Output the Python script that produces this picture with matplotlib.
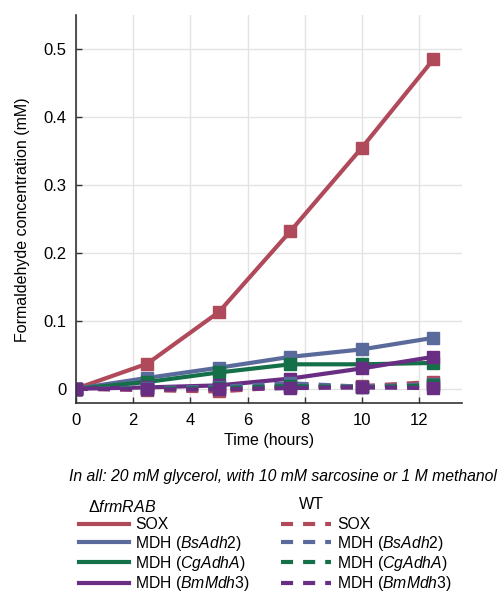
import matplotlib
matplotlib.use("Agg")
import matplotlib.pyplot as plt
from matplotlib.lines import Line2D

plt.rcParams['font.family'] = ['Liberation Sans', 'DejaVu Sans']
plt.rcParams['mathtext.fontset'] = 'custom'
plt.rcParams['mathtext.rm'] = 'Liberation Sans'
plt.rcParams['mathtext.it'] = 'Liberation Sans:italic'

# sampling times (hours)
time_h = [0, 2.5, 5, 7.5, 10, 12.5]

# delta frmRAB strains (solid)
sox_ko = [0.0, 0.037, 0.113, 0.232, 0.355, 0.485]
bsadh2_ko = [0.0, 0.016, 0.031, 0.047, 0.058, 0.075]
cgadha_ko = [0.0, 0.010, 0.024, 0.036, 0.036, 0.038]
bmmdh3_ko = [0.0, 0.002, 0.005, 0.015, 0.030, 0.047]

# WT strains (dashed)
sox_wt = [0.0, -0.002, -0.004, 0.003, 0.004, 0.010]
bsadh2_wt = [0.0, 0.001, 0.003, 0.008, 0.003, 0.007]
cgadha_wt = [0.0, 0.000, 0.001, 0.004, 0.002, 0.005]
bmmdh3_wt = [0.0, -0.001, -0.001, 0.001, 0.002, 0.001]

labels = ['SOX', r'MDH ($\mathit{BsAdh2}$)', r'MDH ($\mathit{CgAdhA}$)',
          r'MDH ($\mathit{BmMdh3}$)']
colors = ['#B04A5B', '#5A6A9B', '#15704A', '#6A2D84']

ko_series = [sox_ko, bsadh2_ko, cgadha_ko, bmmdh3_ko]
wt_series = [sox_wt, bsadh2_wt, cgadha_wt, bmmdh3_wt]

fig = plt.figure(figsize=(4.99, 5.94), dpi=100)
ax = fig.add_axes([0.152, 0.3215, 0.774, 0.653])

lw = 3.0
dash = (2.9, 2.4)
for vals, c in zip(ko_series, colors):
    ax.plot(time_h, vals, color=c, lw=lw, marker='s', ms=9,
            solid_joinstyle='miter')
for vals, c in zip(wt_series, colors):
    ax.plot(time_h, vals, color=c, lw=lw, ls=(0, dash), marker='s', ms=9)

ax.set_xlim(0, 13.5)
ax.set_ylim(-0.021, 0.55)
ax.set_xticks([0, 2, 4, 6, 8, 10, 12])
ax.set_yticks([0, 0.1, 0.2, 0.3, 0.4, 0.5])
ax.set_yticklabels(['0', '0.1', '0.2', '0.3', '0.4', '0.5'])
ax.grid(True, color='#E3E3E3', lw=1.0)
ax.set_axisbelow(True)
for s in ['top', 'right']:
    ax.spines[s].set_visible(False)
for s in ['left', 'bottom']:
    ax.spines[s].set_color('#333333')
    ax.spines[s].set_linewidth(1.2)
ax.tick_params(direction='in', length=4, width=1.0, color='#333333',
               labelsize=12, pad=7)
ax.set_xlabel('Time (hours)', fontsize=11.5)
ax.set_ylabel('Formaldehyde concentration (mM)', fontsize=11.5)
ax.xaxis.set_label_coords(0.5, -0.077)
ax.yaxis.set_label_coords(-0.12, 0.472)

fig.text(0.996, 0.197, 'In all: 20 mM glycerol, with 10 mM sarcosine or 1 M methanol',
         ha='right', va='center', style='italic', fontsize=11.3)

# two legend columns, no markers
ko_handles = [Line2D([], [], color=c, lw=lw) for c in colors]
wt_handles = [Line2D([], [], color=c, lw=lw, ls=(0, dash)) for c in colors]

fig.text(0.176, 0.146, r'$\Delta\mathit{frmRAB}$', ha='left', va='center',
         fontsize=11.5)
fig.text(0.599, 0.151, 'WT', ha='left', va='center', fontsize=11.5)

leg_kw = dict(frameon=False, fontsize=11.3, handlelength=3.2,
              handletextpad=0.4, labelspacing=0.08, borderpad=0,
              borderaxespad=0, loc='upper left')
fig.legend(ko_handles, labels, bbox_to_anchor=(0.158, 0.129), **leg_kw)
fig.legend(wt_handles, labels, bbox_to_anchor=(0.563, 0.129), **leg_kw)

fig.savefig('out.png', dpi=100)
